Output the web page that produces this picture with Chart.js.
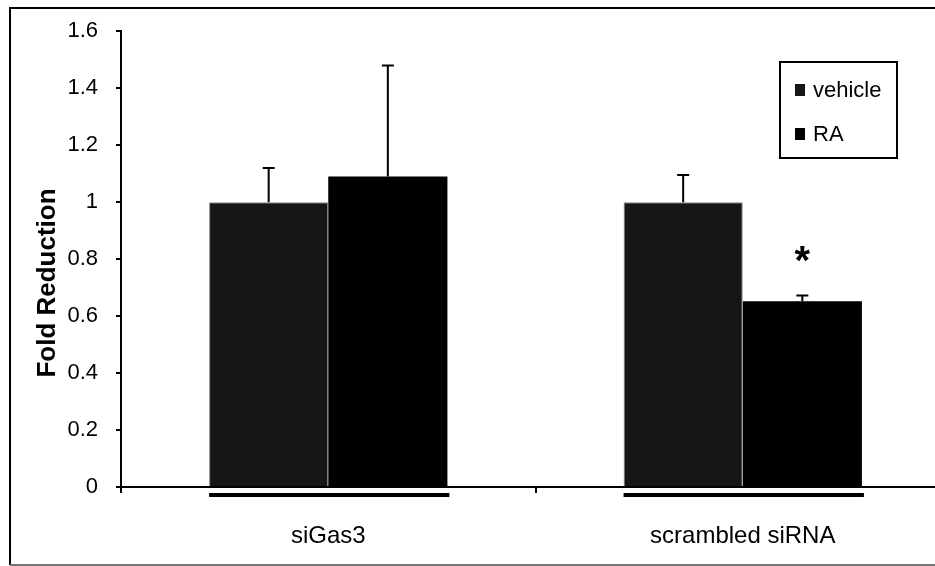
<!DOCTYPE html>
<html>
<head>
<meta charset="utf-8">
<script src="https://cdn.jsdelivr.net/npm/chart.js@4/dist/chart.umd.min.js"></script>
<style>
    html, body { margin: 0; padding: 0; background: #fff; overflow: hidden; }
    #caja { position: relative; width: 950px; height: 566px; }
</style>
</head>
<body>
<div id="caja"><canvas id="grafico"></canvas></div>
<script>
// Datos del gráfico
const categorias = ['siGas3', 'scrambled siRNA'];
const vehiculo = [1.0, 1.0];
const vehiculoError = [0.12, 0.095];
const ra = [1.09, 0.652];
const raError = [0.39, 0.02];
const raSignificancia = ['', '*'];
const ticksY = [0, 0.2, 0.4, 0.6, 0.8, 1, 1.2, 1.4, 1.6];
const tituloY = 'Fold Reduction';

const fuente = "'Liberation Sans', Arial, sans-serif";

// Marco exterior (izquierda, arriba y abajo)
const pluginMarco = {
    id: 'marco',
    beforeDraw(chart) {
        const ctx = chart.ctx;
        ctx.save();
        ctx.fillStyle = '#fff';
        ctx.fillRect(0, 0, chart.width, chart.height);
        ctx.strokeStyle = '#000';
        ctx.lineWidth = 2;
        ctx.beginPath();
        ctx.moveTo(10, 565);
        ctx.lineTo(10, 8);
        ctx.lineTo(chart.width, 8);
        ctx.stroke();
        ctx.strokeStyle = '#777';
        ctx.beginPath();
        ctx.moveTo(10, 565);
        ctx.lineTo(chart.width, 565);
        ctx.stroke();
        ctx.restore();
    }
};

// Barras de error, líneas bajo los grupos, asterisco y título del eje Y
const pluginExtras = {
    id: 'extras',
    afterDatasetsDraw(chart) {
        const ctx = chart.ctx;
        const y = chart.scales.y;
        const errores = [vehiculoError, raError];
        ctx.save();
        ctx.strokeStyle = '#000';
        ctx.lineWidth = 2;
        chart.data.datasets.forEach((ds, d) => {
            const meta = chart.getDatasetMeta(d);
            meta.data.forEach((barra, i) => {
                const arriba = y.getPixelForValue(ds.data[i] + errores[d][i]);
                const base = y.getPixelForValue(ds.data[i]);
                ctx.beginPath();
                ctx.moveTo(barra.x, base);
                ctx.lineTo(barra.x, arriba);
                ctx.moveTo(barra.x - 6, arriba);
                ctx.lineTo(barra.x + 6, arriba);
                ctx.stroke();
                if (d === 1 && raSignificancia[i]) {
                    ctx.fillStyle = '#000';
                    ctx.font = 'bold 40px ' + fuente;
                    ctx.textAlign = 'center';
                    ctx.textBaseline = 'alphabetic';
                    ctx.fillText(raSignificancia[i], barra.x, arriba - 22);
                }
            });
        });

        // Línea gruesa bajo cada grupo
        const m0 = chart.getDatasetMeta(0);
        const m1 = chart.getDatasetMeta(1);
        ctx.fillStyle = '#000';
        categorias.forEach((c, i) => {
            const izq = m0.data[i].x - m0.data[i].width / 2;
            const der = m1.data[i].x + m1.data[i].width / 2 + 2;
            ctx.fillRect(izq, 493, der - izq, 4);
        });

        // Título del eje Y
        ctx.translate(48, 283);
        ctx.rotate(-Math.PI / 2);
        ctx.font = 'bold 26px ' + fuente;
        ctx.textAlign = 'center';
        ctx.textBaseline = 'middle';
        ctx.fillText(tituloY, 0, 0);
        ctx.restore();
    }
};

// Leyenda con recuadro
const pluginLeyenda = {
    id: 'leyenda',
    afterDraw(chart) {
        const ctx = chart.ctx;
        ctx.save();
        ctx.strokeStyle = '#000';
        ctx.lineWidth = 2;
        ctx.strokeRect(780, 62, 117, 96);
        ctx.font = '22px ' + fuente;
        ctx.textBaseline = 'middle';
        ctx.textAlign = 'left';
        chart.data.datasets.forEach((ds, d) => {
            const yc = 90 + d * 44;
            ctx.fillStyle = ds.backgroundColor;
            ctx.fillRect(795, yc - 6, 10, 12);
            ctx.fillStyle = '#000';
            ctx.fillText(ds.label, 813, yc + 1);
        });
        ctx.restore();
    }
};

new Chart(document.getElementById('grafico'), {
    type: 'bar',
    data: {
        labels: categorias,
        datasets: [
            {
                label: 'vehicle',
                data: vehiculo,
                backgroundColor: '#161616',
                borderColor: '#8a8a8a',
                borderWidth: 1
            },
            {
                label: 'RA',
                data: ra,
                backgroundColor: '#000',
                borderWidth: 0
            }
        ]
    },
    options: {
        responsive: true,
        maintainAspectRatio: false,
        animation: false,
        events: [],
        categoryPercentage: 0.575,
        barPercentage: 1,
        layout: {
            padding: { top: 25, left: 0, right: 0, bottom: 0 }
        },
        plugins: {
            legend: { display: false },
            tooltip: { enabled: false }
        },
        scales: {
            x: {
                grid: {
                    drawOnChartArea: false,
                    tickLength: 6,
                    lineWidth: 2,
                    color: '#000'
                },
                border: { color: '#000', width: 2 },
                ticks: {
                    color: '#000',
                    padding: 29,
                    font: { family: fuente, size: 24 }
                },
                afterFit(escala) {
                    escala.height = 79;
                }
            },
            y: {
                min: 0,
                max: 1.6,
                grid: {
                    drawOnChartArea: false,
                    tickLength: 5,
                    lineWidth: 2,
                    color: '#000'
                },
                border: { color: '#000', width: 2 },
                ticks: {
                    color: '#000',
                    padding: 18,
                    font: { family: fuente, size: 22 },
                    callback: function(valor) {
                        return String(+valor.toFixed(1));
                    }
                },
                afterBuildTicks(escala) {
                    escala.ticks = ticksY.map(v => ({ value: v }));
                },
                afterFit(escala) {
                    escala.width = 121;
                }
            }
        }
    },
    plugins: [pluginMarco, pluginExtras, pluginLeyenda]
});
</script>
</body>
</html>
